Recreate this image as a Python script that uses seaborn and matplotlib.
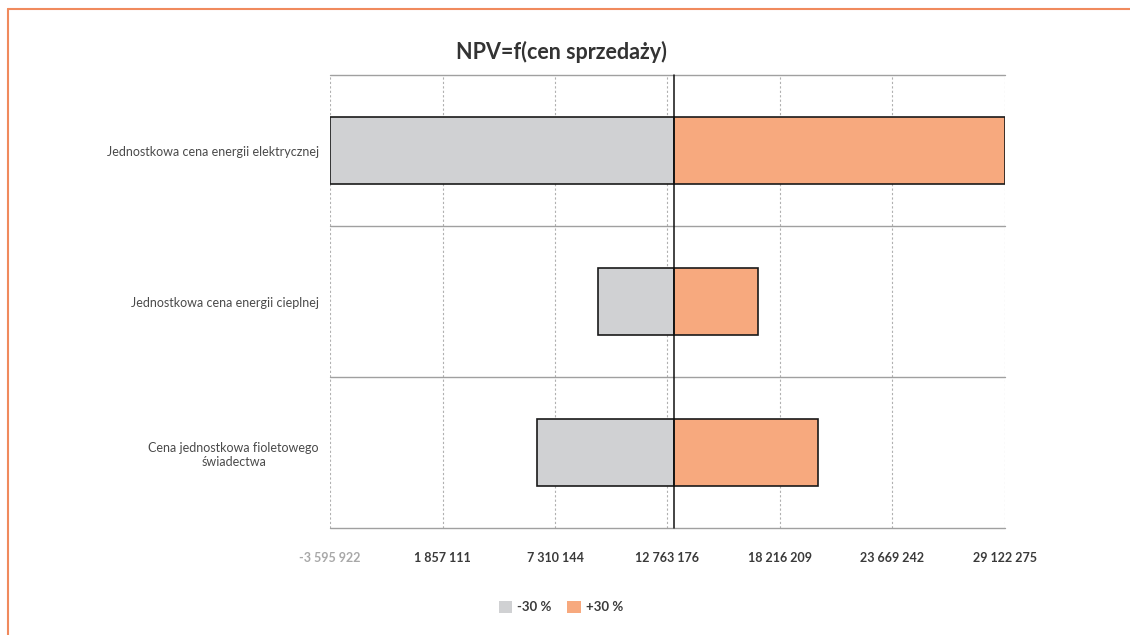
import numpy as np
import pandas as pd
import seaborn as sns
import matplotlib.pyplot as plt
from matplotlib.lines import Line2D
from matplotlib.patches import Patch

# ---- data ----
categories = [
    "Jednostkowa cena energii elektrycznej",
    "Jednostkowa cena energii cieplnej",
    "Cena jednostkowa fioletowego\nświadectwa",
]
base_npv = 13100000
npv_minus30 = [-3595922, 9378000, 6414000]
npv_plus30 = [29122275, 17149000, 20051000]
series_labels = ["-30 %", "+30 %"]
tick_values = [-3595922, 1857111, 7310144, 12763176, 18216209, 23669242, 29122275]
tick_labels = ["-3 595 922", "1 857 111", "7 310 144", "12 763 176",
               "18 216 209", "23 669 242", "29 122 275"]
title = "NPV=f(cen sprzedaży)"

colors = {"-30 %": "#D0D1D3", "+30 %": "#F7A97E"}

sns.set_theme(style="white")
plt.rcParams['font.family'] = ['Lato', 'DejaVu Sans']

rows = []
for c, lo, hi in zip(categories, npv_minus30, npv_plus30):
    rows.append({"category": c, "scenario": series_labels[0], "delta": lo - base_npv})
    rows.append({"category": c, "scenario": series_labels[1], "delta": hi - base_npv})
df = pd.DataFrame(rows)

fig = plt.figure(figsize=(11.3, 6.35), dpi=100)
ax = fig.add_axes([330 / 1130, 1 - 528 / 635, 675 / 1130, 453 / 635])

sns.barplot(data=df, y="category", x="delta", hue="scenario", dodge=False,
            palette=colors, order=categories, hue_order=series_labels,
            saturation=1, edgecolor="#1a1a1a", linewidth=1.2, width=0.45,
            legend=False, orient="h", ax=ax, zorder=3)

xt = [t - base_npv for t in tick_values]
ax.set_xlim(xt[0], xt[-1])
ax.set_ylim(2.5, -0.5)
ax.set_xticks(xt)
ax.set_xticklabels(tick_labels, fontsize=9, fontweight="bold")
for i, lab in enumerate(ax.get_xticklabels()):
    lab.set_color("#a8a8a8" if i == 0 else "#3a3a3a")
ax.tick_params(axis="x", length=0, pad=17)
ax.tick_params(axis="y", length=0, pad=8)
for lab in ax.get_yticklabels():
    lab.set_fontsize(9)
    lab.set_color("#4a4a4a")
    lab.set_multialignment("center")

ax.set_xlabel("")
ax.set_ylabel("")
for s in ax.spines.values():
    s.set_visible(False)

ax.grid(axis="x", linestyle=(0, (2, 2)), color="#b0b0b0", linewidth=0.8, zorder=0)
ax.grid(axis="y", visible=False)
for yb in [-0.5, 0.5, 1.5, 2.5]:
    ax.axhline(yb, color="#a0a0a0", linewidth=1.0, zorder=1, clip_on=False)
ax.axvline(0, color="#111111", linewidth=1.1, zorder=4, clip_on=False)

fig.text(561 / 1130, 1 - 52 / 635, title, ha="center", va="center",
         fontsize=15.5, fontweight="bold", color="#333333")

handles = [Patch(facecolor=colors[s], edgecolor="none") for s in series_labels]
leg = fig.legend(handles, series_labels, loc="center", ncol=2,
                 bbox_to_anchor=(561 / 1130, 1 - 607 / 635), frameon=False,
                 handlelength=1.0, handleheight=1.0, handletextpad=0.4,
                 columnspacing=1.2, prop={"weight": "bold", "size": 9.5})
for t in leg.get_texts():
    t.set_color("#3a3a3a")

# orange frame
fig.add_artist(Line2D([8 / 1130, 1.0], [1 - 9 / 635, 1 - 9 / 635],
                      transform=fig.transFigure, color="#F08A5D", linewidth=1.5))
fig.add_artist(Line2D([8 / 1130, 8 / 1130], [0, 1 - 9 / 635],
                      transform=fig.transFigure, color="#F08A5D", linewidth=1.5))

fig.savefig("out.png", dpi=100)
